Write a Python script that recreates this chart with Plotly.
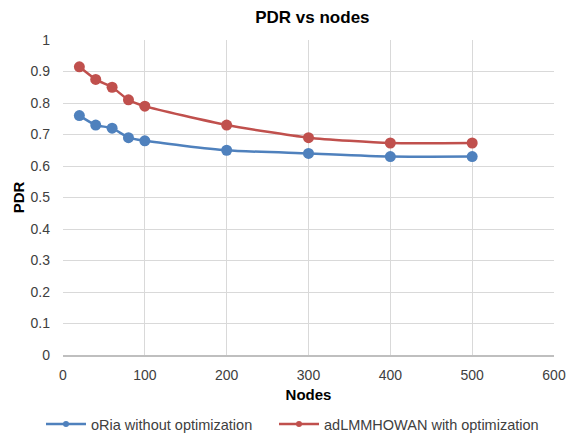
import plotly.graph_objects as go

nodes = [20, 40, 60, 80, 100, 200, 300, 400, 500]
pdr_without = [0.76, 0.73, 0.72, 0.69, 0.68, 0.65, 0.64, 0.63, 0.63]
pdr_with = [0.915, 0.875, 0.85, 0.81, 0.79, 0.73, 0.69, 0.673, 0.673]
series_names = ["oRia without optimization", "adLMMHOWAN with optimization"]
x_ticks = [0, 100, 200, 300, 400, 500, 600]
y_ticks = [0, 0.1, 0.2, 0.3, 0.4, 0.5, 0.6, 0.7, 0.8, 0.9, 1]

colors = ["#4F81BD", "#C0504D"]
legend_ids = ["legend", "legend2"]

fig = go.Figure()
for name, vals, col in zip(series_names, [pdr_without, pdr_with], colors):
    fig.add_trace(go.Scatter(x=nodes, y=vals, mode="lines+markers", name=name,
                             showlegend=False,
                             line=dict(color=col, width=2.5, shape="spline", smoothing=0.6),
                             marker=dict(size=11, color=col)))
for name, col, lid in zip(series_names, colors, legend_ids):
    fig.add_trace(go.Scatter(x=[None], y=[None], mode="lines+markers", name=name,
                             legend=lid,
                             line=dict(color=col, width=2.5),
                             marker=dict(size=6, color=col)))

legend_common = dict(orientation="h", xref="container", xanchor="left",
                     yref="container", y=11 / 435, yanchor="middle",
                     font=dict(size=14.5, color="#404040"), itemwidth=40,
                     bgcolor="rgba(0,0,0,0)")

fig.update_layout(
    width=567, height=435,
    margin=dict(l=63, r=13, t=40, b=80),
    paper_bgcolor="white", plot_bgcolor="white",
    font=dict(family="Liberation Sans, Arial", size=14, color="#404040"),
    title=dict(text="<b>PDR vs nodes</b>", x=288 / 567, xanchor="center",
               xref="paper",
               yref="container", y=1 - 17 / 435, yanchor="middle",
               font=dict(size=17, color="#000000")),
    xaxis=dict(range=[0, 600], tickvals=x_ticks, showgrid=True, gridcolor="#D9D9D9",
               showline=True, linecolor="#BFBFBF", linewidth=1.5, zeroline=False, ticks="",
               ticklabelstandoff=6, automargin=False,
               title=dict(text="<b>Nodes</b>", font=dict(size=15, color="#000000"), standoff=8),
               tickfont=dict(size=14, color="#404040")),
    yaxis=dict(range=[0, 1], tickvals=y_ticks, ticktext=[str(v) for v in y_ticks],
               showgrid=True, gridcolor="#D9D9D9", zeroline=False, showline=False, ticks="",
               ticklabelstandoff=12, automargin=False,
               title=dict(text="<b>PDR</b>", font=dict(size=15, color="#000000"), standoff=2),
               tickfont=dict(size=14, color="#404040")),
    legend=dict(legend_common, x=41 / 567),
    legend2=dict(legend_common, x=274 / 567),
    showlegend=True,
)

fig.write_html("out.html", post_script="document.body.style.margin='0';",
               config={"displayModeBar": False})
